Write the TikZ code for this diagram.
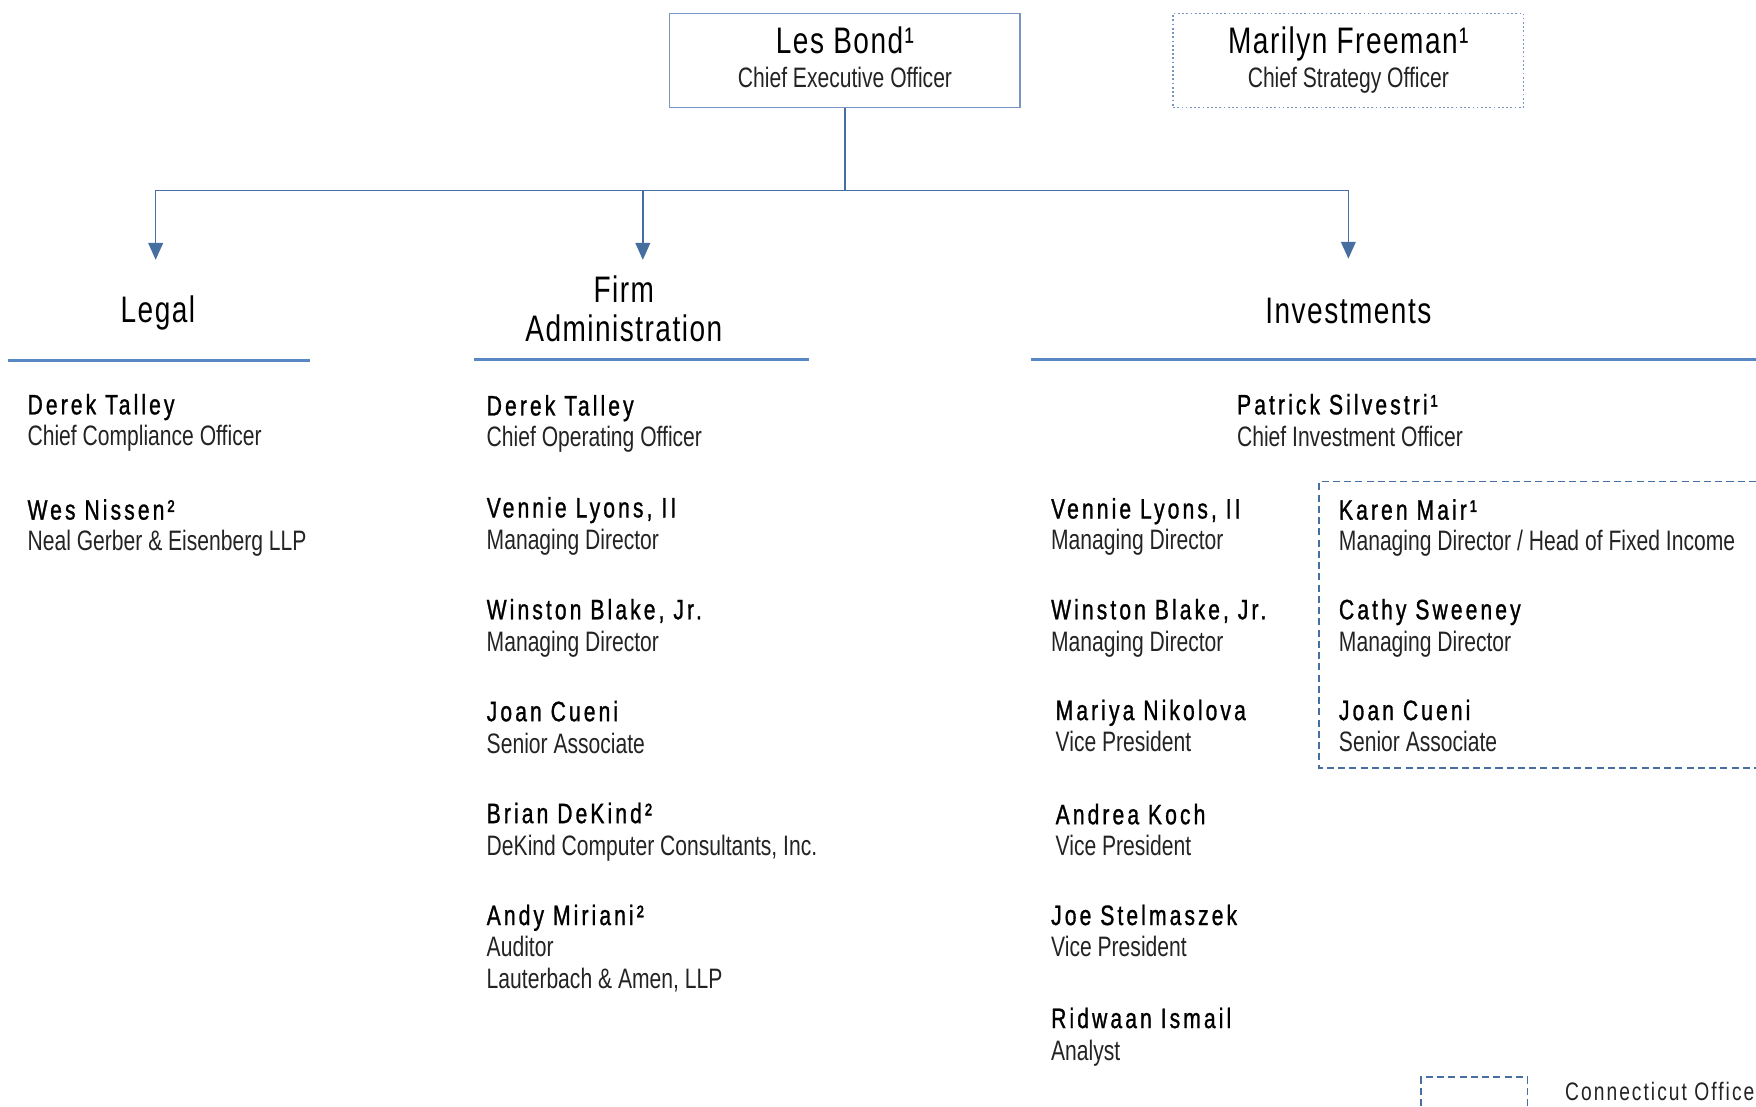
\documentclass[tikz,border=0pt]{standalone}
\usepackage{fontspec}
\usetikzlibrary{arrows.meta}
\newfontfamily\plainfont[FakeStretch=0.75]{Liberation Sans}
\newfontfamily\namefont[FakeStretch=0.75,LetterSpace=11,FakeBold=1]{Liberation Sans}
\newfontfamily\headfont[FakeStretch=0.76,LetterSpace=4]{Liberation Sans}
\newfontfamily\legendfont[FakeStretch=0.76,LetterSpace=8]{Liberation Sans}
\definecolor{linkblue}{RGB}{70,110,160}
\definecolor{ruleblue}{RGB}{88,136,196}
\definecolor{boxblue}{RGB}{120,150,195}
\definecolor{txtgray}{RGB}{35,35,35}
\tikzset{
  pname/.style={anchor=base west,inner sep=0pt,text=black,font=\namefont\fontsize{8}{9}\selectfont},
  ptitle/.style={anchor=base west,inner sep=0pt,text=txtgray,font=\plainfont\fontsize{8}{9}\selectfont},
  dept/.style={anchor=base,inner sep=0pt,font=\headfont\fontsize{10.5}{12}\selectfont},
  deptrule/.style={ruleblue,line width=0.9pt},
  conn/.style={linkblue,line width=0.4pt},
  arr/.style={conn,-{Triangle[width=4.2pt,length=4.8pt]}},
  topbox/.style={minimum width=3.506cm,minimum height=0.941cm,inner sep=0pt,line width=0.45pt},
  ctoffice/.style={linkblue,line width=0.5pt,dash pattern=on 2pt off 1.2pt},
}
\begin{document}
\begin{tikzpicture}[x=0.0112cm,y=-0.0112cm]
			\useasboundingbox (0,0) rectangle (1568,988);
			% top boxes
			\node[topbox,draw=boxblue] (ceo) at (754.5,54) {};
			\node[dept] (ceoname) at (754.5,48) {Les Bond¹};
			\node[ptitle,anchor=base] (ceotitle) at (754.5,78) {Chief Executive Officer};
			\node[topbox,draw=boxblue,dash pattern=on 0.5pt off 0.7pt] (cso) at (1204,54) {};
			\node[dept] (csoname) at (1204,48) {Marilyn Freeman¹};
			\node[ptitle,anchor=base] (csotitle) at (1204,78) {Chief Strategy Officer};
			% connectors
			\coordinate (legtop) at (139,170);
			\coordinate (admtop) at (574,170);
			\coordinate (invtop) at (1204,170);
			\coordinate (legin) at (139,232);
			\coordinate (admin) at (574,232);
			\coordinate (invin) at (1204,231);
			\draw[conn] (ceo.south) -- (ceo.south |- legtop);
			\draw[conn] (legtop) -- (invtop);
			\draw[arr] (legtop) -- (legin);
			\draw[arr] (admtop) -- (admin);
			\draw[arr] (invtop) -- (invin);
			% departments
			\node[dept] (legal) at (141,288) {Legal};
			\node[dept] (firm) at (557,270) {Firm};
			\node[dept] (adm) at (557,305) {Administration};
			\node[dept] (inv) at (1204,289) {Investments};
			\draw[deptrule] (7,322) -- (277,322);
			\draw[deptrule] (423,321) -- (722,321);
			\draw[deptrule] (921,321) -- (1568,321);
			% legal
			\node[pname] (lgTalley) at (24,370) {Derek Talley};
			\node[ptitle] (lgTalleyT) at (24,398) {Chief Compliance Officer};
			\node[pname] (lgNissen) at (24,464) {Wes Nissen²};
			\node[ptitle] (lgNissenT) at (24,492) {Neal Gerber \& Eisenberg LLP};
			% firm administration
			\node[pname] (adTalley) at (434,371) {Derek Talley};
			\node[ptitle] (adTalleyT) at (434,399) {Chief Operating Officer};
			\node[pname] (adLyons) at (434,462) {Vennie Lyons, II};
			\node[ptitle] (adLyonsT) at (434,491) {Managing Director};
			\node[pname] (adBlake) at (434,553) {Winston Blake, Jr.};
			\node[ptitle] (adBlakeT) at (434,582) {Managing Director};
			\node[pname] (adCueni) at (434,644) {Joan Cueni};
			\node[ptitle] (adCueniT) at (434,673) {Senior Associate};
			\node[pname] (adDeKind) at (434,735) {Brian DeKind²};
			\node[ptitle] (adDeKindT) at (434,764) {DeKind Computer Consultants, Inc.};
			\node[pname] (adMiriani) at (434,826) {Andy Miriani²};
			\node[ptitle] (adMirianiT) at (434,854) {Auditor};
			\node[ptitle] (adMirianiF) at (434,883) {Lauterbach \& Amen, LLP};
			% investments
			\node[pname] (ivSilvestri) at (1104,370) {Patrick Silvestri¹};
			\node[ptitle] (ivSilvestriT) at (1104,399) {Chief Investment Officer};
			\node[pname] (ivLyons) at (938,463) {Vennie Lyons, II};
			\node[ptitle] (ivLyonsT) at (938,491) {Managing Director};
			\node[pname] (ivBlake) at (938,553) {Winston Blake, Jr.};
			\node[ptitle] (ivBlakeT) at (938,582) {Managing Director};
			\node[pname] (ivNikolova) at (942,643) {Mariya Nikolova};
			\node[ptitle] (ivNikolovaT) at (942,671) {Vice President};
			\node[pname] (ivKoch) at (942,736) {Andrea Koch};
			\node[ptitle] (ivKochT) at (942,764) {Vice President};
			\node[pname] (ivStelmaszek) at (938,826) {Joe Stelmaszek};
			\node[ptitle] (ivStelmaszekT) at (938,854) {Vice President};
			\node[pname] (ivIsmail) at (938,918) {Ridwaan Ismail};
			\node[ptitle] (ivIsmailT) at (938,947) {Analyst};
			% connecticut office
			\draw[ctoffice] (1568,430) -- (1178,430) -- (1178,686) -- (1568,686);
			\node[pname] (ivMair) at (1195,464) {Karen Mair¹};
			\node[ptitle] (ivMairT) at (1195,492) {Managing Director / Head of Fixed Income};
			\node[pname] (ivSweeney) at (1195,553) {Cathy Sweeney};
			\node[ptitle] (ivSweeneyT) at (1195,582) {Managing Director};
			\node[pname] (ivCueni) at (1195,643) {Joan Cueni};
			\node[ptitle] (ivCueniT) at (1195,671) {Senior Associate};
			% legend
			\draw[ctoffice] (1269,988) -- (1269,962) -- (1364,962) -- (1364,988);
			\node[anchor=base west,inner sep=0pt,text=txtgray,font=\legendfont\fontsize{7.2}{8}\selectfont] (ctlegend) at (1397,983) {Connecticut Office};
		\end{tikzpicture}
\end{document}
